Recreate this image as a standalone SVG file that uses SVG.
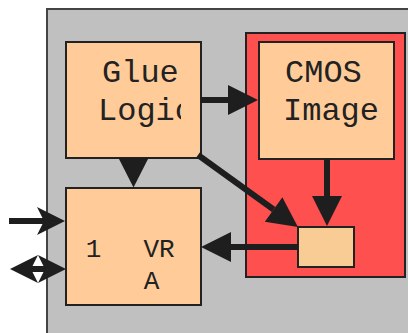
<svg xmlns="http://www.w3.org/2000/svg" width="408" height="333" viewBox="0 0 408 333">
<style>
.box{fill:#ffcc99;stroke:#222;stroke-width:2}
.lbl{font-family:"Liberation Mono","Courier New",monospace;fill:#222}
.big{font-size:32px}
.small{font-size:26px}
.conn{stroke:#1e1e1e;stroke-width:6;fill:none}
.head{fill:#1e1e1e}
</style>
<defs>
<marker id="tri" markerUnits="userSpaceOnUse" markerWidth="30" markerHeight="30" refX="0" refY="15" orient="auto" overflow="visible"><path d="M0,0 L30,15 L0,30 z" fill="#1e1e1e"/></marker>
<marker id="stealth" markerUnits="userSpaceOnUse" markerWidth="28" markerHeight="28" refX="7" refY="14" orient="auto-start-reverse" overflow="visible"><path d="M0,0 L28,14 L0,28 L7,14 z" fill="#1e1e1e"/></marker>
<clipPath id="clipGlue"><rect x="66" y="42" width="115" height="116"/></clipPath>
</defs>
<g id="container">
<rect x="47" y="9" width="380" height="340" fill="#c0c0c0" stroke="#444" stroke-width="2"/>
</g>
<g id="sensor-group">
<rect x="246" y="33" width="159" height="244" fill="#ff5050" stroke="#222" stroke-width="2"/>
</g>
<g id="glue-logic">
<rect class="box" x="66" y="42" width="135" height="116"/>
<g clip-path="url(#clipGlue)">
<text class="lbl big" x="102" y="82">Glue</text>
<text class="lbl big" x="98" y="120">Logic</text>
</g>
</g>
<g id="cmos-image">
<rect class="box" x="259" y="42" width="135" height="117"/>
<text class="lbl big" x="285" y="82">CMOS</text>
<text class="lbl big" x="283" y="120">Image</text>
</g>
<g id="vra">
<rect class="box" x="66" y="188" width="135" height="117"/>
<text class="lbl small" x="93.5" y="257" text-anchor="middle">1</text>
<text class="lbl small" x="159" y="257" text-anchor="middle">VR</text>
<text class="lbl small" x="151.5" y="289" text-anchor="middle">A</text>
</g>
<g id="small-block">
<rect x="298" y="227" width="56" height="40" fill="#f8cc94" stroke="#222" stroke-width="2"/>
</g>
<g id="connectors">
<line class="conn" x1="201" y1="100" x2="228" y2="100" marker-end="url(#tri)"/>
<polygon class="head" points="118.5,158 148.5,158 133.5,187.5"/>
<line class="conn" x1="198" y1="155" x2="273.6" y2="209.5" marker-end="url(#tri)"/>
<line class="conn" x1="327" y1="159" x2="327" y2="196" marker-end="url(#tri)"/>
<line class="conn" x1="298" y1="247" x2="231" y2="247" marker-end="url(#tri)"/>
<line class="conn" x1="9" y1="221" x2="44" y2="221" marker-end="url(#stealth)"/>
<line class="conn" x1="31" y1="269" x2="45" y2="269" marker-start="url(#stealth)" marker-end="url(#stealth)"/>
</g>
</svg>
